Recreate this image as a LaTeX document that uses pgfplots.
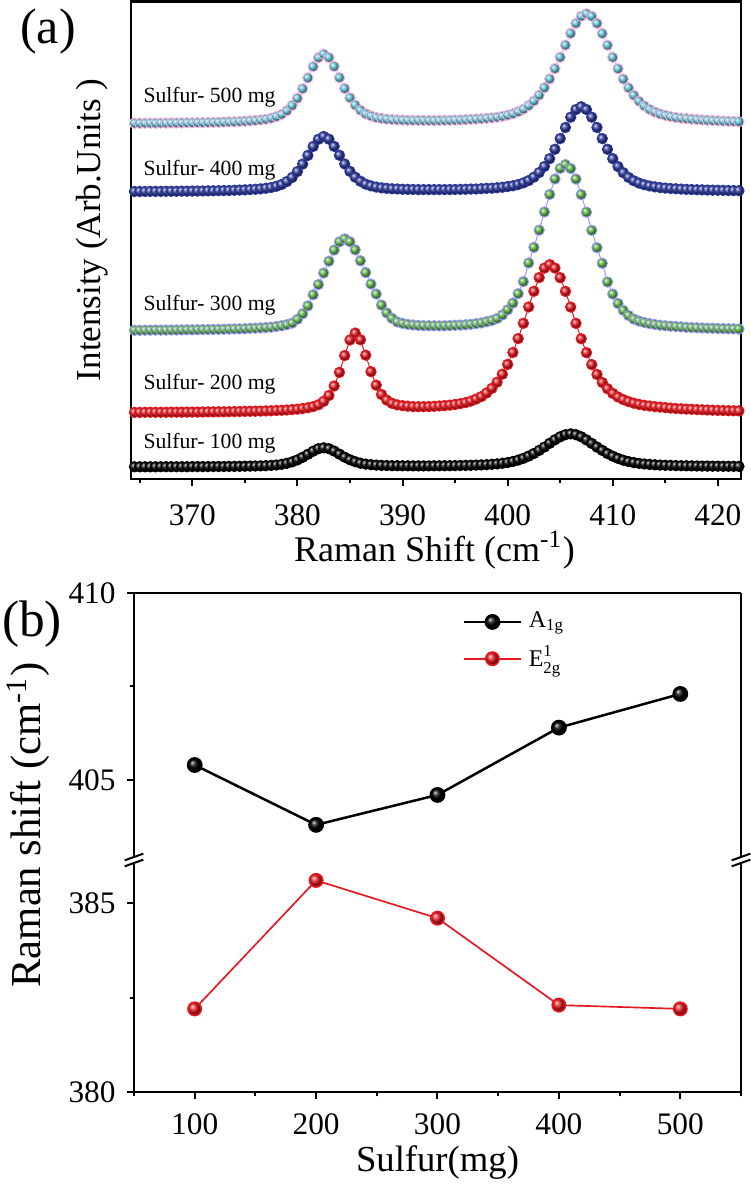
\documentclass[border=0pt]{standalone}
\usepackage{amsmath}
\usepackage{fontspec}
\setmainfont{Liberation Serif}
\usepackage{pgfplots}
\usepackage{pgfplotstable}
\pgfplotsset{compat=1.18}

\definecolor{rcyan}{HTML}{5CC6DA}
\definecolor{rblue}{HTML}{2E3A9A}
\definecolor{rgreen}{HTML}{5DBA3B}
\definecolor{rred}{HTML}{E5181F}

% Raman spectra, offset traces (y in arbitrary units, one column per sulfur amount)
\pgfplotstableread{
x bk rd gn bl cy
364.5 12.2 66.6 148.7 287.5 355.7
365.0 12.2 66.6 148.7 287.5 355.7
365.5 12.2 66.7 148.8 287.5 355.8
366.0 12.2 66.7 148.8 287.6 355.8
366.5 12.2 66.7 148.9 287.6 355.8
367.0 12.3 66.7 148.9 287.6 355.9
367.5 12.3 66.7 148.9 287.7 355.9
368.0 12.3 66.8 149.0 287.7 356.0
368.5 12.3 66.8 149.0 287.7 356.0
369.0 12.3 66.8 149.1 287.8 356.1
369.5 12.3 66.9 149.2 287.8 356.2
370.0 12.4 66.9 149.2 287.9 356.2
370.5 12.4 66.9 149.3 287.9 356.3
371.0 12.4 67.0 149.4 288.0 356.4
371.5 12.4 67.1 149.4 288.1 356.5
372.0 12.5 67.1 149.5 288.2 356.6
372.5 12.5 67.2 149.6 288.3 356.7
373.0 12.5 67.2 149.7 288.4 356.9
373.5 12.6 67.3 149.9 288.5 357.1
374.0 12.6 67.4 150.0 288.7 357.2
374.5 12.7 67.5 150.1 288.9 357.5
375.0 12.8 67.6 150.3 289.1 357.8
375.5 12.9 67.7 150.6 289.4 358.1
376.0 13.0 67.8 150.8 289.7 358.5
376.5 13.1 67.9 151.1 290.1 359.0
377.0 13.3 68.1 151.4 290.7 359.7
377.5 13.6 68.2 151.8 291.5 360.8
378.0 14.0 68.5 152.5 292.7 362.4
378.5 14.7 68.7 153.2 294.5 364.6
379.0 15.7 69.0 154.3 297.4 368.2
379.5 17.1 69.4 155.9 301.5 373.5
380.0 19.1 69.8 159.6 307.4 380.7
380.5 21.7 70.5 165.2 314.9 390.2
381.0 24.7 71.2 173.1 323.6 401.1
381.5 27.8 72.4 184.2 332.5 412.3
382.0 30.3 74.2 194.4 339.7 421.3
382.5 31.2 77.6 205.9 342.5 424.8
383.0 30.3 83.5 217.8 339.8 421.4
383.5 27.9 93.0 228.9 332.6 412.5
384.0 24.8 106.6 237.1 323.7 401.3
384.5 21.8 123.4 240.1 315.0 390.4
385.0 19.2 139.0 237.2 307.6 381.1
385.5 17.3 145.9 229.1 301.8 373.9
386.0 15.8 139.2 218.2 297.7 368.7
386.5 14.9 123.8 206.4 294.8 365.1
387.0 14.3 107.3 194.9 293.1 363.0
387.5 13.9 93.8 184.9 291.9 361.4
388.0 13.6 84.5 173.9 291.1 360.5
388.5 13.5 78.9 166.0 290.6 359.9
389.0 13.3 75.7 160.6 290.2 359.4
389.5 13.3 74.1 157.0 290.0 359.1
390.0 13.2 73.3 155.6 289.7 358.9
390.5 13.2 72.8 154.6 289.6 358.7
391.0 13.1 72.4 154.0 289.5 358.6
391.5 13.1 72.3 153.6 289.4 358.6
392.0 13.1 72.3 153.3 289.4 358.5
392.5 13.1 72.4 153.2 289.4 358.4
393.0 13.2 72.7 153.2 289.4 358.4
393.5 13.2 73.0 153.1 289.4 358.5
394.0 13.3 73.4 153.2 289.4 358.6
394.5 13.3 73.9 153.4 289.4 358.7
395.0 13.4 74.5 153.7 289.5 358.9
395.5 13.5 75.3 153.9 289.6 359.0
396.0 13.6 76.4 154.2 289.7 359.3
396.5 13.7 77.9 154.6 289.9 359.6
397.0 13.9 79.9 155.3 290.0 359.9
397.5 14.1 82.4 156.0 290.3 360.2
398.0 14.3 86.0 157.2 290.6 360.7
398.5 14.7 90.6 158.5 290.8 361.1
399.0 15.1 96.8 160.5 291.2 361.8
399.5 15.7 104.8 164.0 291.7 362.7
400.0 16.4 114.6 169.1 292.4 363.8
400.5 17.5 126.5 175.9 293.2 365.2
401.0 18.9 140.4 185.3 294.4 367.2
401.5 20.7 155.7 197.3 296.1 369.8
402.0 22.9 172.0 216.0 298.4 373.3
402.5 25.5 187.7 231.6 301.8 378.0
403.0 28.6 201.4 248.8 306.4 383.8
403.5 32.0 210.9 267.0 312.5 391.2
404.0 35.7 214.3 284.5 320.3 400.0
404.5 39.2 210.9 300.0 329.7 410.3
405.0 42.2 201.3 310.6 340.4 421.7
405.5 44.3 187.6 314.4 351.5 433.8
406.0 45.1 171.9 310.5 361.8 445.5
406.5 44.3 155.6 299.9 369.4 455.6
407.0 42.2 140.2 284.4 372.2 462.7
407.5 39.1 126.3 266.8 369.4 465.2
408.0 35.6 114.4 248.6 361.8 462.7
408.5 31.9 104.5 231.3 351.5 455.6
409.0 28.6 96.5 215.7 340.4 445.4
409.5 25.4 90.3 197.0 329.7 433.7
410.0 22.8 85.6 184.9 320.3 421.6
410.5 20.6 82.0 175.5 312.4 410.2
411.0 18.8 79.4 168.6 306.3 399.9
411.5 17.4 77.4 163.5 301.6 391.1
412.0 16.4 75.8 159.9 298.2 383.7
412.5 15.6 74.6 157.9 295.9 377.8
413.0 15.0 73.7 156.5 294.2 373.1
413.5 14.6 73.0 155.3 293.0 369.6
414.0 14.2 72.4 154.5 292.1 367.0
414.5 13.9 71.9 153.8 291.4 365.0
415.0 13.7 71.4 153.2 290.9 363.6
415.5 13.6 70.9 152.8 290.5 362.4
416.0 13.4 70.5 152.5 290.2 361.5
416.5 13.3 70.2 152.1 289.9 360.8
417.0 13.2 69.9 151.7 289.6 360.3
417.5 13.1 69.7 151.4 289.4 359.8
418.0 13.0 69.4 151.2 289.2 359.4
418.5 12.9 69.2 151.0 289.1 359.0
419.0 12.9 69.0 150.8 288.9 358.7
419.5 12.8 68.8 150.7 288.8 358.4
420.0 12.8 68.6 150.5 288.7 358.2
420.5 12.7 68.5 150.4 288.6 357.9
421.0 12.7 68.3 150.2 288.5 357.7
421.5 12.7 68.2 150.1 288.4 357.5
422.0 12.6 68.1 150.0 288.3 357.3
}\spectra

\pgfplotsset{
  rstyle/.style={
    scale only axis,
    clip=false,
    axis line style={line width=0.7pt},
    tick align=outside,
    major tick length=2pt,
    minor tick length=1.3pt,
    every tick/.style={black, line width=0.6pt},
    ticklabel style={font=\fontsize{9.4}{10}\selectfont},
    /pgf/number format/assume math mode=true,
    /pgf/number format/set thousands separator={},
  },
  bead/.style={mark=ball, mark size=1.55pt, line width=0.3pt},
}

\begin{document}
\begin{tikzpicture}
\path[use as bounding box] (-39.3pt,-212.1pt) rectangle (185.7pt,143.7pt);

% ---- (a) Raman spectra ----
\begin{axis}[rstyle, name=pa, at={(0pt,0pt)}, anchor=south west,
  width=183pt, height=143.2pt,
  xmin=364.17, xmax=422.2, ymin=0, ymax=477.3,
  xtick={370,380,...,420}, minor xtick={365,375,...,415},
  xticklabel style={yshift=-2.3pt},
  xtick pos=bottom, ytick=\empty]
\addplot[bead, black, mark options={ball color=black}] table[x=x,y=bk] {\spectra};
\addplot[bead, rred, mark options={ball color=rred}] table[x=x,y=rd] {\spectra};
\addplot[bead, blue!40, mark options={ball color=rgreen}] table[x=x,y=gn] {\spectra};
\addplot[bead, rblue, mark options={ball color=rblue}] table[x=x,y=bl] {\spectra};
\addplot[bead, magenta!30, mark options={ball color=rcyan}] table[x=x,y=cy] {\spectra};
\begin{scope}[every node/.style={anchor=west, inner sep=0pt, font=\fontsize{6.5}{7}\selectfont}]
\node at (axis cs:365.3,382) {Sulfur- 500 mg};
\node at (axis cs:365.3,309) {Sulfur- 400 mg};
\node at (axis cs:365.3,174) {Sulfur- 300 mg};
\node at (axis cs:365.3,95) {Sulfur- 200 mg};
\node at (axis cs:365.3,36) {Sulfur- 100 mg};
\end{scope}
\end{axis}

\node[font=\fontsize{15}{16}\selectfont] at (-24.9pt,134.4pt) {(a)};
\node[rotate=90, anchor=base, font=\fontsize{10.5}{12}\selectfont] at (-9.3pt,74.7pt) {Intensity (Arb.Units )};
\node[font=\fontsize{10.8}{12}\selectfont] at (91.05pt,-21.3pt) {Raman Shift (cm\textsuperscript{-1})};

% ---- (b) peak positions, broken y axis: lower part ----
\begin{axis}[rstyle, name=lo, at={(0.9pt,-183.9pt)}, anchor=south west,
  width=182.1pt, height=69.6pt,
  xmin=50, xmax=550, ymin=380, ymax=386.14,
  xtick={100,200,...,500}, minor xtick={50,150,...,550},
  ytick={380,385}, minor ytick={382.5},
  xticklabel style={yshift=-1pt},
  xtick pos=bottom, ytick pos=left,
  separate axis lines, x axis line style={draw=none}]
\addplot[rred, line width=0.5pt, mark=ball, mark size=2pt, mark options={ball color=rred}]
  coordinates {(100,382.2) (200,385.6) (300,384.6) (400,382.3) (500,382.2)};
\draw[line width=0.7pt] (rel axis cs:0,0) -- (rel axis cs:1,0);
\end{axis}

% upper part, sitting on top of the lower part
\begin{axis}[rstyle, name=up, at={(lo.north west)}, anchor=south west,
  width=182.1pt, height=80.1pt,
  xmin=50, xmax=550, ymin=402.86, ymax=410,
  xtick=\empty, ytick={405,410}, minor ytick={407.5}, ytick pos=left,
  separate axis lines, x axis line style={draw=none},
  legend style={draw=none, fill=none, at={(axis cs:312,409.88)}, anchor=north west,
    font=\fontsize{7.2}{8}\selectfont, row sep=0pt},
  legend cell align=left]
\addplot[black, line width=0.75pt, mark=ball, mark size=2pt, mark options={ball color=black}]
  coordinates {(100,405.4) (200,403.8) (300,404.6) (400,406.4) (500,407.3)};
\addlegendentry{A\textsubscript{1g}}
\addlegendimage{rred, line width=0.5pt, mark=ball, mark size=2pt, mark options={ball color=rred}}
\addlegendentry{E$^{\text{1}}_{\text{2g}}$}
\draw[line width=0.7pt] (rel axis cs:0,1) -- (rel axis cs:1,1);
\end{axis}

% axis break marks
\foreach \bp in {lo.north west, lo.north east} {
  \begin{scope}[shift={(\bp)}]
  \fill[white] (-2.8pt,-1.9pt) -- (2.8pt,0.1pt) -- (2.8pt,1.9pt) -- (-2.8pt,-0.1pt) -- cycle;
  \draw[line width=0.6pt] (-2.8pt,-1.9pt) -- (2.8pt,0.1pt);
  \draw[line width=0.6pt] (-2.8pt,-0.1pt) -- (2.8pt,1.9pt);
  \end{scope}
}

\node[font=\fontsize{15.4}{16}\selectfont] at (-29.7pt,-43.5pt) {(b)};
\node[rotate=90, anchor=base, font=\fontsize{12.8}{14}\selectfont] at (-27pt,-103.8pt) {Raman shift (cm\textsuperscript{-1})};
\node[font=\fontsize{11}{12}\selectfont] at (91.95pt,-205.2pt) {Sulfur(mg)};
\end{tikzpicture}
\end{document}
